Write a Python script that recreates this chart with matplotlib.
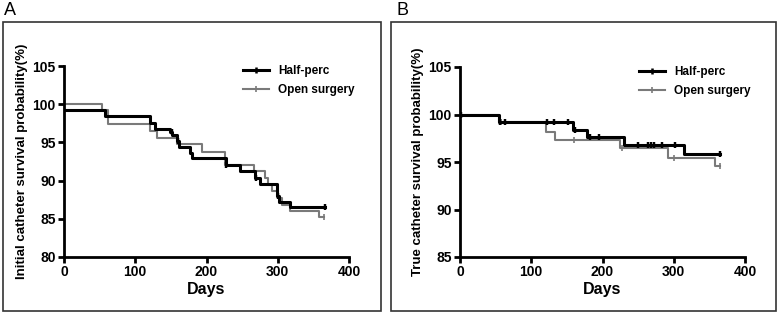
import matplotlib
matplotlib.use('Agg')

import numpy as np
import matplotlib.pyplot as plt
from matplotlib.lines import Line2D
from matplotlib.patches import Rectangle

# panel A - initial catheter survival
a_half_t = [0, 57, 121, 128, 149, 152, 158, 162, 177, 180, 227, 247, 268, 275, 299, 302, 317, 366]
a_half_s = [99.2, 98.4, 97.6, 96.8, 96.4, 96.0, 95.2, 94.4, 93.6, 92.9, 92.1, 91.2, 90.4, 89.6, 88.0, 87.2, 86.5, 86.5]
a_half_c = [151, 160, 228, 269, 300, 366]
a_open_t = [0, 53, 62, 120, 130, 158, 193, 226, 266, 282, 287, 292, 301, 306, 317, 358, 365]
a_open_s = [100, 99.2, 97.4, 96.5, 95.6, 94.8, 93.8, 92.1, 91.2, 90.3, 89.4, 88.6, 87.7, 86.8, 86.0, 85.2, 85.2]
a_open_c = [365]

# panel B - true catheter survival
b_half_t = [0, 55, 158, 178, 230, 315, 365]
b_half_s = [100, 99.2, 98.4, 97.6, 96.8, 95.8, 95.8]
b_half_c = [1, 56, 63, 122, 132, 152, 162, 182, 195, 250, 264, 268, 272, 284, 302, 365]
b_open_t = [0, 55, 120, 133, 225, 292, 358, 365]
b_open_s = [100, 99.2, 98.2, 97.3, 96.5, 95.4, 94.6, 94.6]
b_open_c = [1, 58, 160, 228, 300, 365]

x_ticks = [0, 100, 200, 300, 400]
BLACK = '#000000'
GRAY = '#7a7a7a'

plt.rcParams['font.family'] = ['Liberation Sans', 'DejaVu Sans']
plt.rcParams['font.weight'] = 'bold'


def surv_at(times, surv, c):
    idx = np.searchsorted(times, c, side='right') - 1
    return np.array(surv)[idx]


def km_panel(ax, half, open_, ylim, yticks, ylabel):
    for (t, s, c), col, lw in [(open_, GRAY, 1.5), (half, BLACK, 2.2)]:
        ax.step(t, s, where='post', color=col, lw=lw)
        ax.plot(c, surv_at(t, s, c), ls='none', marker='|', ms=5, mew=lw * 0.8, color=col)

    ax.set_xlim(0, 400)
    ax.set_ylim(*ylim)
    ax.set_xticks(x_ticks)
    ax.set_yticks(yticks)
    for side in ['top', 'right']:
        ax.spines[side].set_visible(False)
    for side in ['left', 'bottom']:
        ax.spines[side].set_linewidth(2)
    ax.tick_params(direction='out', length=4, width=2, labelsize=10, pad=2)
    ax.set_xlabel('Days', fontsize=11.5, fontweight='bold', labelpad=2)
    ax.set_ylabel(ylabel, fontsize=9.5, fontweight='bold', labelpad=3)

    handles = [Line2D([], [], color=BLACK, lw=2.2, marker='|', ms=5, mew=1.8),
               Line2D([], [], color=GRAY, lw=1.5, marker='|', ms=5, mew=1.2)]
    ax.legend(handles, ['Half-perc', 'Open surgery'], loc='upper left',
              bbox_to_anchor=(0.59, 1.06), frameon=False, handlelength=2.2,
              handletextpad=0.8, labelspacing=0.55, markerfirst=True,
              prop={'weight': 'bold', 'size': 8.5})


fig = plt.figure(figsize=(7.78, 3.13), dpi=100)

ax1 = fig.add_axes([64 / 778, 1 - 257 / 313, 285 / 778, 191 / 313])
km_panel(ax1, (a_half_t, a_half_s, a_half_c), (a_open_t, a_open_s, a_open_c),
         (80, 105), [80, 85, 90, 95, 100, 105], 'Initial catheter survival probability(%)')

ax2 = fig.add_axes([460 / 778, 1 - 257 / 313, 285 / 778, 190 / 313])
km_panel(ax2, (b_half_t, b_half_s, b_half_c), (b_open_t, b_open_s, b_open_c),
         (85, 105), [85, 90, 95, 100, 105], 'True catheter survival probability(%)')

# outer frames and panel letters
for x0, x1, letter, lx in [(3, 381, 'A', 4), (391, 776, 'B', 396)]:
    fig.patches.append(Rectangle((x0 / 778, 1 - 311 / 313), (x1 - x0) / 778, 289 / 313,
                                 transform=fig.transFigure, fill=False,
                                 edgecolor='#333333', lw=1.2))
    fig.text(lx / 778, 1 - 2 / 313, letter, fontsize=13, fontweight='normal',
             va='top', ha='left')

fig.savefig('out.png', dpi=100)
plt.close(fig)
